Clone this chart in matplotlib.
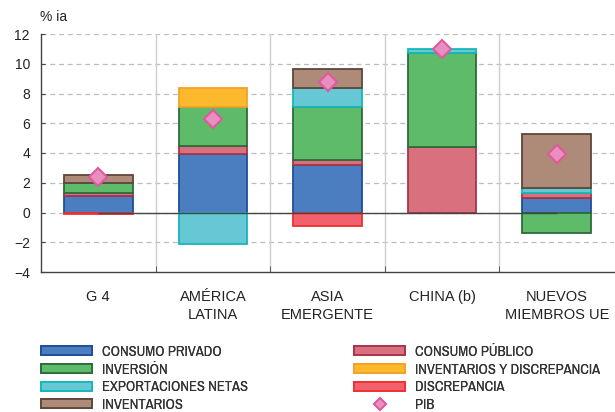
import numpy as np
import matplotlib
matplotlib.use('Agg')
import matplotlib.pyplot as plt
from matplotlib import font_manager
from matplotlib.patches import Patch
from matplotlib.lines import Line2D

plt.rcParams['font.family'] = ['Liberation Sans', 'DejaVu Sans']

categorias = ['G 4', 'AMÉRICA\nLATINA', 'ASIA\nEMERGENTE', 'CHINA (b)', 'NUEVOS\nMIEMBROS UE']

# contribuciones al crecimiento (pp)
consumo_privado = [1.1, 3.9, 3.2, 0.0, 1.0]
consumo_publico = [0.2, 0.6, 0.35, 4.4, 0.3]
inversion = [0.65, 2.6, 3.55, 6.35, -1.4]
export_netas = [0.05, -2.15, 1.25, 0.25, 0.35]
inv_discrepancia = [0.0, 1.3, 0.0, 0.0, 0.0]
discrepancia = [-0.12, 0.0, -0.9, 0.0, 0.0]
inventarios = [0.55, 0.0, 1.3, 0.0, 3.6]
pib = [2.4, 6.3, 8.8, 11.0, 3.9]

series = [
    ('CONSUMO PRIVADO', consumo_privado, '#4a7ec0', '#1f4e96'),
    ('CONSUMO PÚBLICO', consumo_publico, '#d9707e', '#a8344a'),
    ('INVERSIÓN', inversion, '#5dbb6a', '#2e6b3a'),
    ('EXPORTACIONES NETAS', export_netas, '#66c8d4', '#14b8b8'),
    ('INVENTARIOS Y DISCREPANCIA', inv_discrepancia, '#fdb92e', '#f4a12a'),
    ('DISCREPANCIA', discrepancia, '#f2606b', '#ee3030'),
    ('INVENTARIOS', inventarios, '#ad8b78', '#5e4638'),
]

# condensed, regular-weight font for the legend, if there is one
def is_regular(f):
    return f.style == 'normal' and f.weight in (400, 'normal', 'regular', 'book')

narrow = None
cands = [f for f in font_manager.fontManager.ttflist if is_regular(f)]
for f in cands:
    if 'Narrow' in f.name or 'Condensed' in f.name:
        narrow = f
        break
if narrow is None:
    for f in cands:
        if f.stretch in ('condensed', 'semi-condensed', 'extra-condensed'):
            narrow = f
            break
if narrow is not None:
    leg_prop = font_manager.FontProperties(fname=narrow.fname, size=10.5)
else:
    leg_prop = font_manager.FontProperties(family='Liberation Sans', size=8.5)

fig = plt.figure(figsize=(6.15, 4.12), dpi=100)
ax = fig.add_axes([41 / 615, 140 / 412, 573 / 615, 238 / 412])

x = np.arange(len(categorias))
width = 0.6
pos_base = np.zeros(len(x))
neg_base = np.zeros(len(x))

ax.set_xlim(-0.5, 4.5)
ax.set_ylim(-4, 12)
ax.set_yticks(np.arange(-4, 13, 2))
for yv in np.arange(-2, 13, 2):
    ax.axhline(yv, color='#bdbdbd', lw=0.9, ls=(0, (4, 3)), zorder=0)
for xv in [0.5, 1.5, 2.5, 3.5]:
    ax.axvline(xv, color='#cfcfcf', lw=1.0, zorder=0)

handles = {}
for name, vals, fc, ec in series:
    vals = np.array(vals)
    for i, v in enumerate(vals):
        if v == 0:
            continue
        if v > 0:
            ax.bar(x[i], v, width, bottom=pos_base[i], color=fc, edgecolor=ec, lw=1.3, zorder=2)
            pos_base[i] += v
        else:
            ax.bar(x[i], v, width, bottom=neg_base[i], color=fc, edgecolor=ec, lw=1.3, zorder=2)
            neg_base[i] += v
    handles[name] = Patch(facecolor=fc, edgecolor=ec, lw=1.3)

ax.hlines(0, 0, 4, color='#444444', lw=1.0, zorder=3)

ax.plot(x, pib, ls='none', marker='D', ms=9, mfc='#e88fc0', mec='#e0589e', mew=1.5, zorder=4)
handles['PIB'] = Line2D([], [], ls='none', marker='D', ms=6, mfc='#e88fc0', mec='#e0589e', mew=1.3)

for s in ['top', 'right']:
    ax.spines[s].set_visible(False)
for s in ['left', 'bottom']:
    ax.spines[s].set_color('#444444')
    ax.spines[s].set_linewidth(1.0)

ax.set_xticks(x)
ax.set_xticklabels(categorias, fontsize=10.5, color='#222222', linespacing=1.35)
ax.set_xticks([0.5, 1.5, 2.5, 3.5], minor=True)
ax.tick_params(axis='x', which='major', length=0, pad=13)
ax.tick_params(axis='x', which='minor', length=4, direction='in', color='#444444')
ax.tick_params(axis='y', length=3, direction='in', color='#444444', labelsize=10, labelcolor='#222222', pad=8)

fig.text(40 / 615, 1 - 17 / 412, '% ia', fontsize=10, color='#222222', va='center', ha='left')

# legend in two columns
col1 = ['CONSUMO PRIVADO', 'INVERSIÓN', 'EXPORTACIONES NETAS', 'INVENTARIOS']
col2 = ['CONSUMO PÚBLICO', 'INVENTARIOS Y DISCREPANCIA', 'DISCREPANCIA', 'PIB']
for cols, xpos in [(col1, 41 / 615), (col2, 354 / 615)]:
    leg = fig.legend([handles[c] for c in cols], cols, loc='upper left',
                     bbox_to_anchor=(xpos, 1 - 345 / 412), frameon=False,
                     borderpad=0, borderaxespad=0, handlelength=3.5, handleheight=0.55,
                     handletextpad=0.65, labelspacing=0.25, numpoints=1, prop=leg_prop)
    for t in leg.get_texts():
        t.set_color('#333333')
    fig.add_artist(leg)

fig.savefig('out.png', dpi=100)
